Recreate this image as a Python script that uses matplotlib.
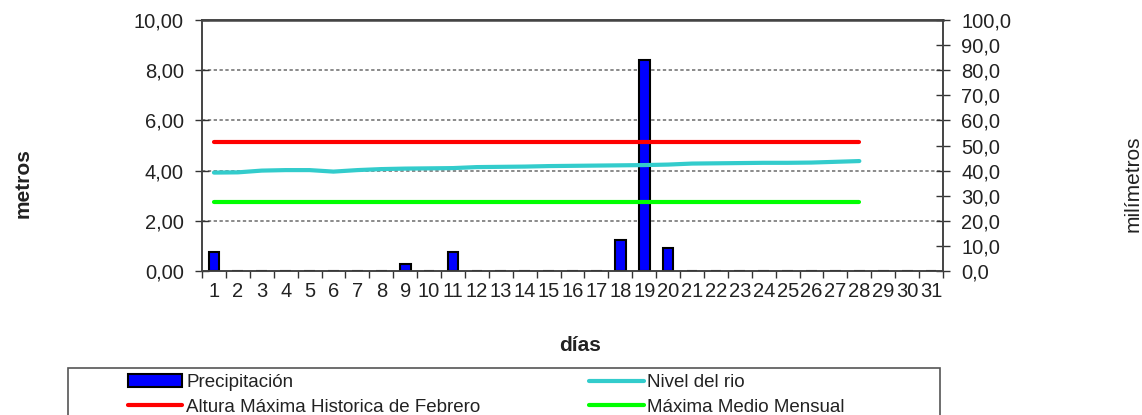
import numpy as np
import matplotlib.pyplot as plt
from matplotlib.patches import Rectangle, Patch
from matplotlib.lines import Line2D
from matplotlib.ticker import FuncFormatter

plt.rcParams['font.family'] = ['Liberation Sans', 'DejaVu Sans']

dias = list(range(1, 32))
# precipitacion diaria (mm), eje derecho
precipitacion = [7.7, 0, 0, 0, 0, 0, 0, 0, 2.7, 0, 7.7, 0, 0, 0, 0, 0, 0, 12.3, 84.0, 9.0,
                 0, 0, 0, 0, 0, 0, 0, 0, 0, 0, 0]
# nivel del rio (m), dias 1..28
nivel_rio = [3.92, 3.93, 4.00, 4.02, 4.02, 3.96, 4.02, 4.06, 4.08, 4.09, 4.10, 4.14, 4.15, 4.16,
             4.18, 4.19, 4.20, 4.21, 4.22, 4.24, 4.28, 4.29, 4.30, 4.31, 4.31, 4.32, 4.35, 4.38]
altura_max_hist = 5.15
maxima_medio = 2.75
dias_mes = 28

fig = plt.figure(figsize=(11.42, 4.15), dpi=100)
ax = fig.add_axes([202 / 1142, 1 - 271 / 415, 741 / 1142, 251 / 415])
axr = ax.twinx()
ax.set_zorder(2)
axr.set_zorder(1)
ax.patch.set_visible(False)

x = np.array(dias)
axr.bar(x, precipitacion, width=0.45, color='#0000ff', edgecolor='black', linewidth=1.5, zorder=3)
axr.set_ylim(0, 100)
axr.set_yticks(np.arange(0, 101, 10))
axr.yaxis.set_major_formatter(FuncFormatter(lambda v, p: f"{v:.1f}".replace('.', ',')))
for g in [20, 40, 60, 80]:
    axr.axhline(g, color='#777777', lw=1.2, ls=(0, (2, 1.5)), zorder=1)

xd = np.arange(1, dias_mes + 1)
ax.plot(xd, [altura_max_hist] * dias_mes, color='#ff0000', lw=3, solid_capstyle='round')
ax.plot(xd, [maxima_medio] * dias_mes, color='#00ff00', lw=3, solid_capstyle='round')
ax.plot(xd, nivel_rio, color='#33cccc', lw=3, solid_capstyle='round')
ax.set_ylim(0, 10)
ax.set_yticks(np.arange(0, 10.1, 2))
ax.yaxis.set_major_formatter(FuncFormatter(lambda v, p: f"{v:.2f}".replace('.', ',')))

ax.set_xlim(0.5, 31.5)
ax.set_xticks(np.arange(0.5, 32, 1))
ax.set_xticklabels([])
ax.set_xticks(x, minor=True)
ax.set_xticklabels([str(d) for d in dias], minor=True)
ax.tick_params(axis='x', which='major', direction='out', length=5, width=1, color='#333333')
ax.tick_params(axis='x', which='minor', length=0, pad=8, labelsize=14.5, labelcolor='#222222')
ax.tick_params(axis='y', direction='inout', length=10, width=1, pad=8, labelsize=14.5,
               color='#333333', labelcolor='#222222')
axr.tick_params(axis='y', direction='inout', length=10, width=1, pad=8, labelsize=14.5,
                color='#333333', labelcolor='#222222')

for a in (ax, axr):
    for s in a.spines.values():
        s.set_color('#444444')
        s.set_linewidth(1.2)
ax.spines['top'].set_linewidth(1.8)

fig.text(23 / 1142, 1 - 183 / 415, 'metros', rotation=90, ha='center', va='center',
         fontsize=15, fontweight='bold', color='#222222')
fig.text(1133 / 1142, 1 - 184 / 415, 'milímetros', rotation=90, ha='center', va='center',
         fontsize=15, color='#222222')
fig.text(580 / 1142, 1 - 345 / 415, 'días', ha='center', va='center',
         fontsize=15, fontweight='bold', color='#222222')

fig.patches.append(Rectangle((68 / 1142, -0.05), (940 - 68) / 1142, 0.05 + (415 - 368) / 415,
                             transform=fig.transFigure, fill=False, edgecolor='#555555', lw=1.2))
handles = [Patch(facecolor='#0000ff', edgecolor='black', linewidth=1.5),
           Line2D([], [], color='#ff0000', lw=3, solid_capstyle='round'),
           Line2D([], [], color='#33cccc', lw=3, solid_capstyle='round'),
           Line2D([], [], color='#00ff00', lw=3, solid_capstyle='round')]
labels = ['Precipitación', 'Altura Máxima Historica de Febrero', 'Nivel del rio', 'Máxima Medio Mensual']
fig.legend(handles, labels, loc='upper left', bbox_to_anchor=(128 / 1142, 1 - 374 / 415),
           ncol=2, frameon=False, borderpad=0, borderaxespad=0, fontsize=13.5,
           handlelength=2.9, handletextpad=0.2, columnspacing=5.8, labelspacing=0.4,
           labelcolor='#222222')

fig.savefig('out.png', dpi=100)
